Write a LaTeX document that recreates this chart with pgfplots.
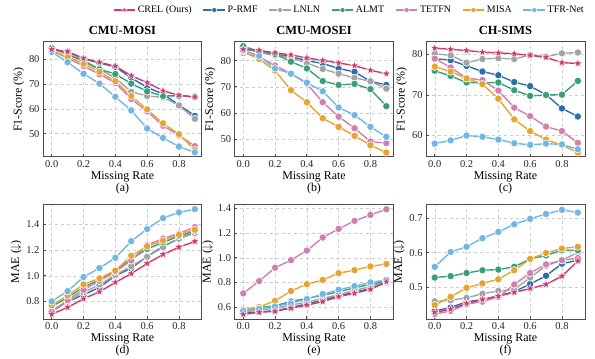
\documentclass[border=0pt]{standalone}
\usepackage{fontspec}
\setmainfont{Liberation Serif}
\usepackage{pgfplots}
\usepackage{pgfplotstable}
\pgfplotsset{compat=1.18}
\definecolor{crelc}{HTML}{D1386E}
\definecolor{prmfc}{HTML}{2E6EA8}
\definecolor{lnlnc}{HTML}{A3A3A3}
\definecolor{almtc}{HTML}{3A9F78}
\definecolor{tetfnc}{HTML}{D07FB0}
\definecolor{misac}{HTML}{E5A533}
\definecolor{tfrc}{HTML}{72B6E6}

\pgfdeclareplotmark{fstar}{%
  \pgfpathmoveto{\pgfpointpolar{90}{1.25\pgfplotmarksize}}%
  \pgfpathlineto{\pgfpointpolar{126}{0.5\pgfplotmarksize}}%
  \pgfpathlineto{\pgfpointpolar{162}{1.25\pgfplotmarksize}}%
  \pgfpathlineto{\pgfpointpolar{198}{0.5\pgfplotmarksize}}%
  \pgfpathlineto{\pgfpointpolar{234}{1.25\pgfplotmarksize}}%
  \pgfpathlineto{\pgfpointpolar{270}{0.5\pgfplotmarksize}}%
  \pgfpathlineto{\pgfpointpolar{306}{1.25\pgfplotmarksize}}%
  \pgfpathlineto{\pgfpointpolar{342}{0.5\pgfplotmarksize}}%
  \pgfpathlineto{\pgfpointpolar{18}{1.25\pgfplotmarksize}}%
  \pgfpathlineto{\pgfpointpolar{54}{0.5\pgfplotmarksize}}%
  \pgfpathclose
  \pgfusepathqfillstroke}

\pgfplotstableread{
x crel prmf lnln almt tetfn misa tfr
0.0 84.0 84.0 84.8 84.5 83.5 83.5 83.0
0.1 83.1 83.0 82.0 82.0 80.5 81.0 78.8
0.2 80.4 80.2 79.0 79.5 77.3 78.2 74.2
0.3 78.8 78.5 76.0 76.0 74.0 75.0 70.2
0.4 77.3 77.0 72.5 74.1 70.5 71.2 64.9
0.5 73.4 72.5 66.9 70.2 64.0 65.2 59.4
0.6 70.6 68.7 65.2 67.1 59.0 59.8 52.1
0.7 67.3 66.0 64.7 65.2 53.2 54.2 48.3
0.8 65.5 61.6 61.4 65.3 49.3 49.8 44.8
0.9 64.9 57.2 56.0 64.8 45.0 43.5 42.5
}\tA
\pgfplotstableread{
x crel prmf lnln almt tetfn misa tfr
0.0 84.3 84.5 85.0 85.5 82.9 83.5 84.0
0.1 83.9 83.5 83.0 83.5 81.5 80.6 81.8
0.2 83.0 82.5 82.0 82.5 78.1 76.2 77.0
0.3 82.2 81.5 81.0 79.6 75.0 68.7 75.0
0.4 81.0 80.0 79.1 77.0 71.2 64.1 71.6
0.5 80.1 78.9 76.8 72.2 64.1 58.0 68.3
0.6 79.1 77.0 75.0 70.7 58.6 54.7 62.1
0.7 78.1 75.7 73.4 71.1 54.2 51.3 59.2
0.8 76.3 72.1 72.1 69.1 49.1 47.7 54.7
0.9 75.0 70.7 69.3 62.6 48.5 44.9 50.9
}\tB
\pgfplotstableread{
x crel prmf lnln almt tetfn misa tfr
0.0 81.6 79.0 80.2 76.0 79.0 77.0 58.0
0.1 81.3 78.6 79.8 74.7 76.8 75.8 58.8
0.2 81.0 77.2 78.0 73.1 74.2 74.1 60.0
0.3 80.6 75.8 78.9 73.0 73.7 72.7 59.7
0.4 80.4 74.9 79.1 73.1 71.1 69.1 59.0
0.5 80.2 73.2 78.9 71.2 66.9 64.0 58.1
0.6 79.8 72.2 79.9 69.8 64.8 61.1 57.7
0.7 79.3 70.1 79.5 70.0 62.2 59.0 58.0
0.8 78.0 66.7 80.3 70.1 61.1 57.6 57.8
0.9 77.8 64.7 80.5 73.5 58.2 55.8 56.6
}\tC
\pgfplotstableread{
x crel prmf lnln almt tetfn misa tfr
0.0 0.700 0.720 0.730 0.760 0.720 0.770 0.800
0.1 0.753 0.800 0.800 0.830 0.810 0.845 0.880
0.2 0.820 0.850 0.870 0.910 0.890 0.932 0.990
0.3 0.875 0.910 0.930 0.970 0.960 0.980 1.060
0.4 0.948 1.000 1.005 1.040 1.030 1.040 1.140
0.5 1.016 1.060 1.075 1.130 1.120 1.156 1.270
0.6 1.096 1.150 1.148 1.210 1.240 1.230 1.365
0.7 1.166 1.230 1.223 1.260 1.290 1.275 1.450
0.8 1.223 1.290 1.290 1.310 1.330 1.320 1.495
0.9 1.268 1.340 1.333 1.350 1.380 1.360 1.520
}\tD
\pgfplotstableread{
x crel prmf lnln almt tetfn misa tfr
0.0 0.540 0.550 0.560 0.580 0.711 0.580 0.570
0.1 0.557 0.560 0.575 0.595 0.811 0.600 0.585
0.2 0.565 0.570 0.590 0.610 0.919 0.650 0.605
0.3 0.590 0.595 0.615 0.645 0.981 0.730 0.630
0.4 0.616 0.625 0.640 0.670 1.059 0.785 0.665
0.5 0.643 0.655 0.670 0.695 1.165 0.820 0.705
0.6 0.684 0.690 0.700 0.725 1.235 0.875 0.740
0.7 0.711 0.720 0.735 0.755 1.300 0.900 0.770
0.8 0.743 0.750 0.765 0.785 1.349 0.930 0.800
0.9 0.805 0.800 0.805 0.810 1.395 0.950 0.820
}\tE
\pgfplotstableread{
x crel prmf lnln almt tetfn misa tfr
0.0 0.427 0.431 0.459 0.528 0.422 0.448 0.559
0.1 0.436 0.441 0.462 0.532 0.431 0.472 0.602
0.2 0.453 0.458 0.469 0.541 0.451 0.498 0.617
0.3 0.464 0.464 0.481 0.549 0.458 0.511 0.642
0.4 0.474 0.475 0.489 0.551 0.472 0.523 0.660
0.5 0.485 0.487 0.493 0.559 0.508 0.549 0.682
0.6 0.496 0.509 0.528 0.582 0.541 0.582 0.698
0.7 0.508 0.533 0.562 0.592 0.566 0.599 0.712
0.8 0.532 0.568 0.578 0.607 0.578 0.612 0.724
0.9 0.576 0.578 0.601 0.607 0.584 0.617 0.716
}\tF

\pgfplotsset{
  ser/.style={color=#1, line width=1.4pt, mark=*, mark size=3.7pt,
    mark options={fill=#1, draw=white, line width=0.6pt}},
  crels/.style={color=crelc, line width=1.4pt, mark=fstar, mark size=3.7pt,
    mark options={fill=crelc, draw=white, line width=0.4pt}},
  panel/.style={
    scale only axis, width=159bp, height=115bp,
    xmin=-0.055, xmax=0.945,
    xtick={0,0.2,0.4,0.6,0.8},
    xticklabel style={/pgf/number format/fixed, /pgf/number format/fixed zerofill, /pgf/number format/precision=1},
    /pgf/number format/assume math mode=true,
    tick label style={font=\fontsize{10.5}{12}\selectfont, black!85},
    label style={font=\fontsize{12}{12}\selectfont},
    title style={font=\fontsize{12.5}{14}\selectfont\bfseries, yshift=-2pt},
    xlabel style={align=center, yshift=3pt},
    ylabel style={yshift=-2pt},
    grid=major,
    major grid style={dashed, black!20, line width=0.5pt},
    axis line style={draw=black!70, line width=1pt},
    tick align=inside, major tick length=3pt,
    tick style={black!70, line width=0.8pt},
    xtick pos=left, ytick pos=left,
    clip=false,
  },
  mae/.style={ylabel={MAE ($\downarrow$)},
    yticklabel style={/pgf/number format/fixed, /pgf/number format/fixed zerofill, /pgf/number format/precision=1}},
  fone/.style={ylabel={F1-Score (\%)}},
}
\newcommand{\drawall}[1]{%
  \addplot[ser=prmfc, forget plot] table[x=x,y=prmf]{#1};
  \addplot[ser=lnlnc, forget plot] table[x=x,y=lnln]{#1};
  \addplot[ser=almtc, forget plot] table[x=x,y=almt]{#1};
  \addplot[ser=tetfnc, forget plot] table[x=x,y=tetfn]{#1};
  \addplot[ser=misac, forget plot] table[x=x,y=misa]{#1};
  \addplot[ser=tfrc, forget plot] table[x=x,y=tfr]{#1};
  \addplot[crels, forget plot] table[x=x,y=crel]{#1};
}

\begin{document}
\begin{tikzpicture}
\useasboundingbox (0,0) rectangle (595bp,359bp);
% top row
\begin{axis}[panel, fone, at={(43bp,202bp)}, anchor=south west,
  ymin=40.6, ymax=87, ytick={50,60,70,80},
  title={CMU-MOSI}, xlabel={Missing Rate\\(a)}]
\drawall{\tA}
\end{axis}
\begin{axis}[panel, fone, at={(234.5bp,202bp)}, anchor=south west,
  ymin=43.2, ymax=87.1, ytick={50,60,70,80},
  title={CMU-MOSEI}, xlabel={Missing Rate\\(b)},
  legend columns=7,
  legend style={at={(0.722,1.278)}, anchor=center, draw=none, fill=none,
    font=\fontsize{10}{12}\selectfont,
    /tikz/every even column/.append style={column sep=9pt}},
  legend image code/.code={\draw[mark repeat=2, mark phase=2, mark size=2.6pt] plot coordinates {(0cm,0cm) (0.38cm,0cm) (0.76cm,0cm)};}]
\drawall{\tB}
\addlegendimage{crels, mark size=2.8pt}\addlegendentry{CREL (Ours)}
\addlegendimage{ser=prmfc}\addlegendentry{P-RMF}
\addlegendimage{ser=lnlnc}\addlegendentry{LNLN}
\addlegendimage{ser=almtc}\addlegendentry{ALMT}
\addlegendimage{ser=tetfnc}\addlegendentry{TETFN}
\addlegendimage{ser=misac}\addlegendentry{MISA}
\addlegendimage{ser=tfrc}\addlegendentry{TFR-Net}
\end{axis}
\begin{axis}[panel, fone, at={(426bp,202bp)}, anchor=south west,
  ymin=54.7, ymax=83.1, ytick={60,70,80},
  title={CH-SIMS}, xlabel={Missing Rate\\(c)}]
\drawall{\tC}
\end{axis}
% bottom row
\begin{axis}[panel, mae, at={(43bp,39.7bp)}, anchor=south west,
  ymin=0.66, ymax=1.558, ytick={0.8,1.0,1.2,1.4},
  xlabel={Missing Rate\\(d)}]
\drawall{\tD}
\end{axis}
\begin{axis}[panel, mae, at={(234.5bp,39.7bp)}, anchor=south west,
  ymin=0.5, ymax=1.435, ytick={0.6,0.8,1.0,1.2,1.4},
  xlabel={Missing Rate\\(e)}]
\drawall{\tE}
\end{axis}
\begin{axis}[panel, mae, at={(426bp,39.7bp)}, anchor=south west,
  ymin=0.407, ymax=0.74, ytick={0.5,0.6,0.7},
  xlabel={Missing Rate\\(f)}]
\drawall{\tF}
\end{axis}
\end{tikzpicture}
\end{document}
